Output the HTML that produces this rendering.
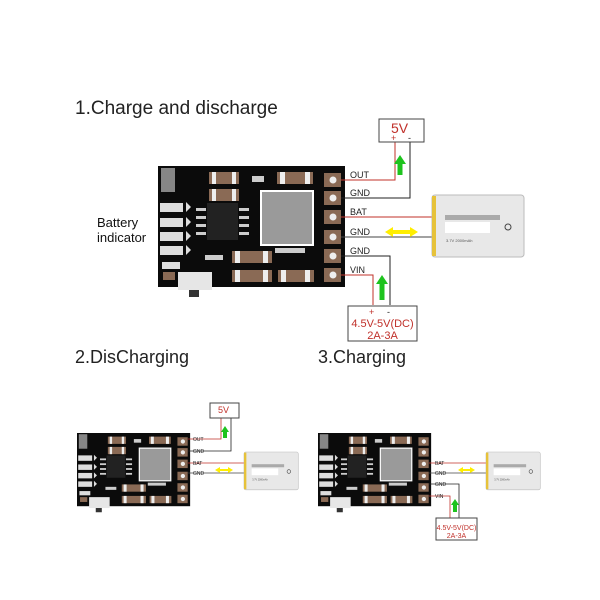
<!DOCTYPE html>
<html><head><meta charset="utf-8"><style>
html,body{margin:0;padding:0;background:#fff;}
svg{display:block;font-family:"Liberation Sans",Arial,sans-serif;}
</style></head><body>
<svg width="600" height="600" viewBox="0 0 600 600" xmlns="http://www.w3.org/2000/svg">
<rect width="600" height="600" fill="#fff"/>
<text x="75" y="114" font-size="19" fill="#222">1.Charge and discharge</text>
<text x="97" y="227" font-size="13" fill="#111">Battery</text>
<text x="97" y="242" font-size="13" fill="#111">indicator</text>
<text x="75" y="363" font-size="18" fill="#222">2.DisCharging</text>
<text x="318" y="363" font-size="18" fill="#222">3.Charging</text>

<defs>
<g id="bd">
<rect x="158" y="166" width="187" height="121" fill="#0b0b0b"/>
<rect x="160" y="203" width="23" height="9" fill="#ddd"/><rect x="160" y="218" width="23" height="9" fill="#ddd"/>
<rect x="160" y="232" width="23" height="9" fill="#ddd"/><rect x="160" y="246" width="23" height="9" fill="#ddd"/>
<polygon points="186,202 191,207 186,212" fill="#ddd"/><polygon points="186,217 191,222 186,227" fill="#ddd"/>
<polygon points="186,231 191,236 186,241" fill="#ddd"/><polygon points="186,245 191,250 186,255" fill="#ddd"/>
<rect x="207" y="203" width="31" height="37" fill="#222"/>
<rect x="196" y="208" width="10" height="3" fill="#ccc"/><rect x="196" y="216" width="10" height="3" fill="#ccc"/><rect x="196" y="224" width="10" height="3" fill="#ccc"/><rect x="196" y="232" width="10" height="3" fill="#ccc"/>
<rect x="239" y="208" width="10" height="3" fill="#ccc"/><rect x="239" y="216" width="10" height="3" fill="#ccc"/><rect x="239" y="224" width="10" height="3" fill="#ccc"/><rect x="239" y="232" width="10" height="3" fill="#ccc"/>
<rect x="260" y="190" width="54" height="56" fill="#fff"/>
<rect x="262" y="192" width="50" height="52" fill="#9a9a9a"/>
<rect x="209" y="172" width="30" height="12" fill="#8a6a55"/><rect x="212" y="172" width="4" height="12" fill="#eee"/><rect x="232" y="172" width="4" height="12" fill="#eee"/>
<rect x="209" y="189" width="30" height="12" fill="#8a6a55"/><rect x="212" y="189" width="4" height="12" fill="#eee"/><rect x="232" y="189" width="4" height="12" fill="#eee"/>
<rect x="277" y="172" width="36" height="12" fill="#8a6a55"/><rect x="280" y="172" width="5" height="12" fill="#eee"/><rect x="305" y="172" width="5" height="12" fill="#eee"/>
<rect x="252" y="176" width="12" height="6" fill="#ccc"/>
<rect x="232" y="251" width="40" height="12" fill="#8a6a55"/><rect x="235" y="251" width="5" height="12" fill="#eee"/><rect x="263" y="251" width="5" height="12" fill="#eee"/>
<rect x="232" y="270" width="40" height="12" fill="#8a6a55"/><rect x="235" y="270" width="5" height="12" fill="#eee"/><rect x="263" y="270" width="5" height="12" fill="#eee"/>
<rect x="278" y="270" width="36" height="12" fill="#8a6a55"/><rect x="281" y="270" width="5" height="12" fill="#eee"/><rect x="305" y="270" width="5" height="12" fill="#eee"/>
<rect x="205" y="255" width="18" height="5" fill="#ccc"/><rect x="275" y="248" width="30" height="5" fill="#ccc"/>
<rect x="324" y="173" width="17" height="14" fill="#8a6a55"/><circle cx="333" cy="180" r="3.5" fill="#eee"/>
<rect x="324" y="191" width="17" height="14" fill="#8a6a55"/><circle cx="333" cy="198" r="3.5" fill="#eee"/>
<rect x="324" y="210" width="17" height="14" fill="#8a6a55"/><circle cx="333" cy="217" r="3.5" fill="#eee"/>
<rect x="324" y="230" width="17" height="14" fill="#8a6a55"/><circle cx="333" cy="237" r="3.5" fill="#eee"/>
<rect x="324" y="249" width="17" height="14" fill="#8a6a55"/><circle cx="333" cy="256" r="3.5" fill="#eee"/>
<rect x="324" y="268" width="17" height="14" fill="#8a6a55"/><circle cx="333" cy="275" r="3.5" fill="#eee"/>
<rect x="161" y="168" width="14" height="24" fill="#bbb" opacity="0.7"/>
<rect x="162" y="262" width="18" height="7" fill="#ddd"/>
<rect x="163" y="272" width="12" height="8" fill="#8a6a55"/>
<rect x="178" y="272" width="34" height="18" fill="#e6e6e6"/>
<rect x="189" y="290" width="10" height="7" fill="#333"/>
</g>
</defs>

<use href="#bd"/>
<g stroke-width="1" fill="none">
<polyline points="341,180 395,180 395,137" stroke="#c0302a"/>
<polyline points="341,198 410,198 410,137" stroke="#222"/>
<line x1="341" y1="217" x2="434" y2="217" stroke="#c0302a"/>
<line x1="341" y1="237" x2="434" y2="237" stroke="#444"/>
<polyline points="341,256 390,256 390,305" stroke="#222"/>
<polyline points="341,275 373,275 373,305" stroke="#c0302a"/>
</g>
<g font-size="9" fill="#222"><text x="350" y="178">OUT</text><text x="350" y="196">GND</text><text x="350" y="215">BAT</text><text x="350" y="235">GND</text><text x="350" y="254">GND</text><text x="350" y="273">VIN</text></g>
<rect x="379" y="119" width="45" height="23" fill="#fff" stroke="#444"/>
<text x="391" y="133" font-size="14" fill="#c0302a">5V</text>
<text x="391" y="141" font-size="9" fill="#c0302a">+</text><text x="408" y="141" font-size="9" fill="#222">-</text>
<polygon points="400,155 406,164 402.5,164 402.5,175 397.5,175 397.5,164 394,164" fill="#1ec31e"/>
<polygon points="382,275 388,284 384.5,284 384.5,300 379.5,300 379.5,284 376,284" fill="#1ec31e"/>
<polygon points="385,232 393,227 393,230 410,230 410,227 418,232 410,237 410,234 393,234 393,237" fill="#ffee00"/>
<rect x="348" y="306" width="69" height="35" fill="#fff" stroke="#444"/>
<text x="369" y="315" font-size="9" fill="#c0302a">+</text><text x="387" y="315" font-size="9" fill="#222">-</text>
<text x="382.5" y="327" font-size="11" fill="#c0302a" text-anchor="middle">4.5V-5V(DC)</text>
<text x="382.5" y="339" font-size="11" fill="#c0302a" text-anchor="middle">2A-3A</text>
<g id="bat">
<rect x="432" y="195" width="92" height="62" rx="3" fill="#e8e8e8" stroke="#bbb"/>
<rect x="432" y="196" width="4" height="60" fill="#e6c23a"/>
<rect x="445" y="215" width="55" height="5" fill="#aaa"/>
<rect x="445" y="222" width="45" height="11" fill="#fff"/>
<text x="446" y="242" font-size="4" fill="#555">3.7V  2000mAh</text>
<circle cx="508" cy="227" r="3" fill="none" stroke="#444"/>
</g>

<!-- small 1 -->
<g transform="translate(77,433) scale(0.605) translate(-158,-166)"><use href="#bd"/></g>
<g stroke-width="0.8" fill="none">
<polyline points="188,439 221,439 221,417" stroke="#c0302a"/>
<polyline points="188,451 231,451 231,417" stroke="#222"/>
<line x1="188" y1="463" x2="245" y2="463" stroke="#c0302a"/>
<line x1="188" y1="473" x2="245" y2="473" stroke="#444"/>
</g>
<g font-size="5" fill="#222"><text x="193" y="441">OUT</text><text x="193" y="453">GND</text><text x="193" y="465">BAT</text><text x="193" y="475">GND</text></g>
<rect x="210" y="403" width="29" height="15" fill="#fff" stroke="#444"/>
<text x="218" y="413" font-size="9" fill="#c0302a">5V</text>
<polygon points="225,426 229,432 227,432 227,438 223,438 223,432 221,432" fill="#1ec31e"/>
<polygon points="215,470 220,467 220,469 228,469 228,467 233,470 228,473 228,471 220,471 220,473" fill="#ffee00"/>
<g transform="translate(244,452) scale(0.59,0.61) translate(-432,-195)"><use href="#bat"/></g>

<!-- small 2 -->
<g transform="translate(318,433) scale(0.605) translate(-158,-166)"><use href="#bd"/></g>
<g stroke-width="0.8" fill="none">
<line x1="429" y1="463" x2="487" y2="463" stroke="#c0302a"/>
<line x1="429" y1="473" x2="487" y2="473" stroke="#444"/>
<polyline points="429,484 459,484 459,518" stroke="#222"/>
<polyline points="429,496 450,496 450,518" stroke="#c0302a"/>
</g>
<g font-size="5" fill="#222"><text x="435" y="465">BAT</text><text x="435" y="475">GND</text><text x="435" y="486">GND</text><text x="435" y="498">VIN</text></g>
<polygon points="455,499 459,505 457,505 457,512 453,512 453,505 451,505" fill="#1ec31e"/>
<polygon points="458,470 463,467 463,469 470,469 470,467 475,470 470,473 470,471 463,471 463,473" fill="#ffee00"/>
<rect x="436" y="518" width="41" height="22" fill="#fff" stroke="#444"/>
<text x="456.5" y="530" font-size="7" fill="#c0302a" text-anchor="middle">4.5V-5V(DC)</text>
<text x="456.5" y="538" font-size="7" fill="#c0302a" text-anchor="middle">2A-3A</text>
<g transform="translate(486,452) scale(0.59,0.61) translate(-432,-195)"><use href="#bat"/></g>
</svg>
</body></html>
